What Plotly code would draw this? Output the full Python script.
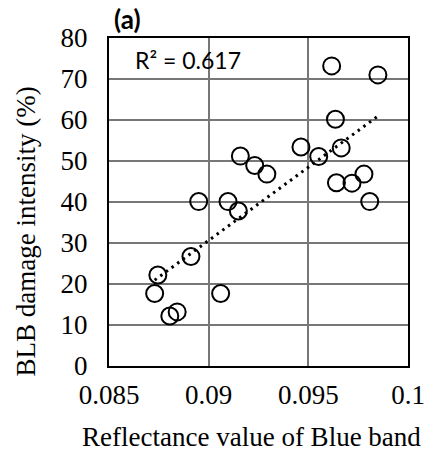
import numpy as np
import plotly.graph_objects as go

# Data
blue_reflectance = [0.09617, 0.09849, 0.09636, 0.09463, 0.09552, 0.09665, 0.09159,
                    0.09231, 0.09292, 0.09641, 0.09719, 0.09779, 0.09808, 0.08950,
                    0.09097, 0.09149, 0.08911, 0.08745, 0.08729, 0.09060, 0.08842,
                    0.08805]
blb_intensity = [73.2, 71.0, 60.2, 53.4, 51.1, 53.2, 51.2, 48.9, 46.8, 44.7, 44.6,
                 46.8, 40.1, 40.1, 40.1, 37.8, 26.7, 22.2, 17.7, 17.7, 13.2, 12.2]
x_ticks = [0.085, 0.09, 0.095, 0.1]
x_tick_labels = ["0.085", "0.09", "0.095", "0.1"]
y_ticks = [0, 10, 20, 30, 40, 50, 60, 70, 80]
r2_label = "R² = 0.617"
panel_label = "(a)"
x_title = "Reflectance value of Blue band"
y_title = "BLB damage intensity (%)"

# Linear trendline
slope, intercept = np.polyfit(blue_reflectance, blb_intensity, 1)
tx = np.array([min(blue_reflectance), max(blue_reflectance)])
ty = slope * tx + intercept

fig = go.Figure()
fig.add_trace(go.Scatter(
    x=blue_reflectance, y=blb_intensity, mode="markers",
    marker=dict(symbol="circle-open", size=17, color="black",
                line=dict(color="black", width=2)),
    showlegend=False, hoverinfo="skip"))
fig.add_trace(go.Scatter(
    x=tx, y=ty, mode="lines",
    line=dict(color="black", width=3, dash="2.5px,4.5px"),
    showlegend=False, hoverinfo="skip"))

serif = "Liberation Serif, Times New Roman, serif"
sans = "Lato, Carlito, Calibri, sans-serif"
fig.update_layout(
    width=437, height=454,
    margin=dict(l=109, r=20, t=38, b=88),
    paper_bgcolor="white", plot_bgcolor="white",
    font=dict(family=serif, size=27, color="black"),
    xaxis=dict(range=[0.085, 0.1], tickvals=x_ticks, ticktext=x_tick_labels,
               showgrid=True, gridcolor="#777777", gridwidth=1.5,
               showline=True, linecolor="black", linewidth=2, mirror=True,
               zeroline=False, ticks="", ticklabelstandoff=4,
               tickfont=dict(family=serif, size=27, color="black")),
    yaxis=dict(range=[0, 80], tickvals=y_ticks,
               showgrid=True, gridcolor="#777777", gridwidth=1.5,
               showline=True, linecolor="black", linewidth=2, mirror=True,
               zeroline=False, ticks="", ticklabelstandoff=14,
               tickfont=dict(family=serif, size=27, color="black")),
    annotations=[
        dict(text=r2_label, xref="paper", yref="paper", x=(134 - 109) / 308,
             y=(366 - 60) / 328, xanchor="left", yanchor="middle", showarrow=False,
             font=dict(family=sans, size=23, color="black")),
        dict(text="<b>" + panel_label + "</b>", xref="paper", yref="paper",
             x=(112 - 109) / 308, y=(366 - 19) / 328, xanchor="left", yanchor="middle",
             showarrow=False,
             font=dict(family=sans, size=26, color="black")),
        dict(text=x_title, xref="paper", yref="paper", x=(256 - 109) / 308,
             y=(366 - 437) / 328, xanchor="center", yanchor="middle", showarrow=False,
             font=dict(family=serif, size=27, color="black")),
        dict(text=y_title, xref="paper", yref="paper", x=(23 - 109) / 308,
             y=(366 - 232) / 328, xanchor="center", yanchor="middle", textangle=-90,
             showarrow=False, font=dict(family=serif, size=27, color="black")),
    ],
)

fig.write_html("out.html")
